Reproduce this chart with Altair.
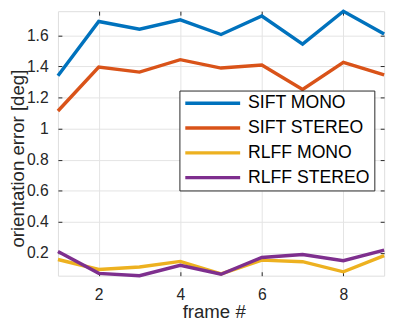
import altair as alt
import pandas as pd

frames = [1, 2, 3, 4, 5, 6, 7, 8, 9]
sift_mono = [1.34, 1.69, 1.64, 1.70, 1.606, 1.725, 1.544, 1.756, 1.61]
sift_stereo = [1.114, 1.396, 1.364, 1.444, 1.39, 1.41, 1.252, 1.427, 1.346]
rlff_mono = [0.158, 0.094, 0.11, 0.146, 0.065, 0.154, 0.144, 0.079, 0.183]
rlff_stereo = [0.21, 0.069, 0.054, 0.121, 0.063, 0.171, 0.19, 0.15, 0.219]
series = ["SIFT MONO", "SIFT STEREO", "RLFF MONO", "RLFF STEREO"]
colors = ["#0072BD", "#D95319", "#EDB120", "#7E2F8E"]
x_ticks = [2, 4, 6, 8]
y_ticks = [0.2, 0.4, 0.6, 0.8, 1.0, 1.2, 1.4, 1.6]

rows = []
for name, vals in zip(series, [sift_mono, sift_stereo, rlff_mono, rlff_stereo]):
    for f, v in zip(frames, vals):
        rows.append({"frame": f, "value": v, "series": name})
df = pd.DataFrame(rows)

all_vals = sift_mono + sift_stereo + rlff_mono + rlff_stereo
y_dom = [min(all_vals), max(all_vals)]
x_dom = [min(frames), max(frames)]

TXT = "#262626"
FONT = "Liberation Sans"

lines = alt.Chart(df).mark_line(strokeWidth=3.5, strokeCap="butt").encode(
    x=alt.X("frame:Q", scale=alt.Scale(domain=x_dom, nice=False, zero=False),
            axis=alt.Axis(orient="bottom", values=x_ticks, offset=-4, tickSize=4,
                          labelPadding=11, domain=False, grid=True,
                          gridColor="#e3e3e3", tickColor=TXT, labelColor=TXT,
                          labelFontSize=16, labelFont=FONT,
                          title="frame #", titleFontSize=19, titleFont=FONT,
                          titleFontWeight="normal", titleColor=TXT,
                          titleX=159, titleY=47, titleBaseline="alphabetic")),
    y=alt.Y("value:Q", scale=alt.Scale(domain=y_dom, nice=False, zero=False),
            axis=alt.Axis(orient="left", values=y_ticks, format=".1~f", offset=-4,
                          tickSize=4, labelPadding=10, domain=False, grid=True,
                          gridColor="#e3e3e3", tickColor=TXT, labelColor=TXT,
                          labelFontSize=16, labelFont=FONT,
                          title="orientation error [deg]", titleFontSize=19,
                          titleFont=FONT, titleFontWeight="normal", titleColor=TXT,
                          titleX=-39, titleY=150, titleAngle=270,
                          titleBaseline="alphabetic", titleAlign="center")),
    color=alt.Color("series:N", sort=series,
                    scale=alt.Scale(domain=series, range=colors),
                    legend=alt.Legend(title=None, orient="none", legendX=124, legendY=81,
                                      symbolType="M-4,0H4", symbolSize=196,
                                      symbolOffset=21,
                                      symbolStrokeWidth=3.5, labelFontSize=18,
                                      labelFont=FONT, labelColor="#000000",
                                      padding=4, rowPadding=7.3, labelOffset=27,
                                      fillColor="white", strokeColor=TXT,
                                      cornerRadius=0)),
)

frame_ticks = alt.Chart(df).mark_line(opacity=0).encode(
    x=alt.X("frame:Q", scale=alt.Scale(domain=x_dom, nice=False, zero=False),
            axis=alt.Axis(orient="top", values=x_ticks, offset=-4, tickSize=4,
                          labels=False, domain=False, grid=False, tickColor=TXT,
                          title=None)),
    y=alt.Y("value:Q", scale=alt.Scale(domain=y_dom, nice=False, zero=False),
            axis=alt.Axis(orient="right", values=y_ticks, offset=-4, tickSize=4,
                          labels=False, domain=False, grid=False, tickColor=TXT,
                          title=None)),
)

chart = alt.layer(lines, frame_ticks).resolve_scale(
    x="independent", y="independent"
).properties(
    width=333, height=270,
    autosize=alt.AutoSizeParams(type="none"),
    padding={"left": 51, "top": 0, "right": 7, "bottom": 43},
).configure_view(
    stroke=TXT, strokeWidth=1
).configure(font=FONT, background="white")

chart.save("out.html", embed_options={"renderer": "svg", "actions": False})
